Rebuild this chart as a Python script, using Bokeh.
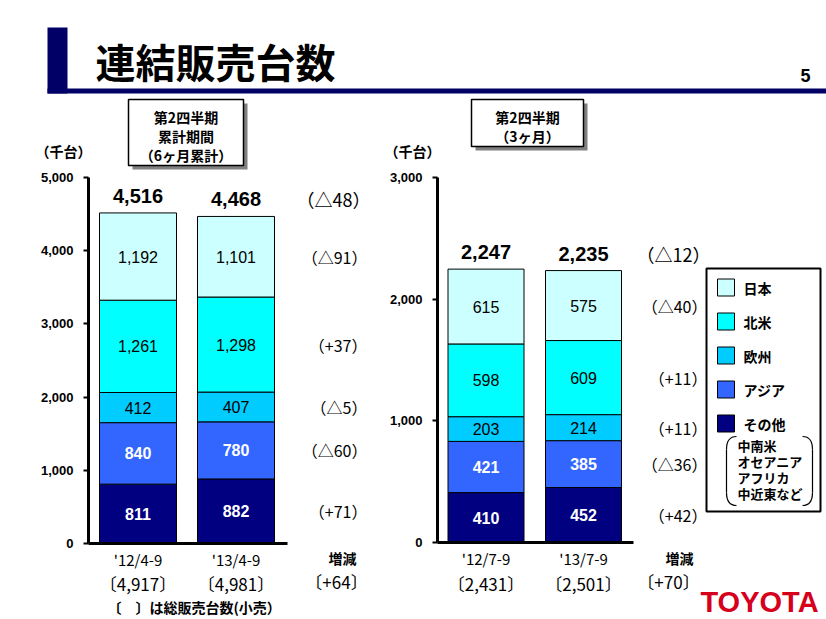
import numpy as np
from bokeh.plotting import figure
from bokeh.models import Range1d, LinearAxis, FixedTicker, NumeralTickFormatter
from bokeh.core.properties import value
from bokeh.embed import file_html
from bokeh.resources import INLINE

# ---------------- data ----------------
regions = ["日本", "北米", "欧州", "アジア", "その他"]
region_colors = ["#CCFFFF", "#00FFFF", "#00CCFF", "#3366FF", "#000080"]
region_label_colors = ["black", "black", "black", "white", "white"]
region_label_styles = ["normal", "normal", "normal", "bold", "bold"]
other_note = ["中南米", "オセアニア", "アフリカ", "中近東など"]

left_periods = ["'12/4-9", "'13/4-9"]
left_japan = [1192, 1101]
left_na = [1261, 1298]
left_eu = [412, 407]
left_asia = [840, 780]
left_other = [811, 882]
left_retail = [4917, 4981]
left_ticks = [0, 1000, 2000, 3000, 4000, 5000]
left_header = ["第2四半期", "累計期間", "（6ヶ月累計）"]

right_periods = ["'12/7-9", "'13/7-9"]
right_japan = [615, 575]
right_na = [598, 609]
right_eu = [203, 214]
right_asia = [421, 385]
right_other = [410, 452]
right_retail = [2431, 2501]
right_ticks = [0, 1000, 2000, 3000]
right_header = ["第2四半期", "（3ヶ月）"]

title = "連結販売台数"
page_no = "5"
unit_label = "（千台）"
change_label = "増減"
retail_note = "〔　〕は総販売台数(小売）"

# ---------------- canvas ----------------
W, H = 826, 619
JP = value("Noto Sans CJK JP")
LAT = value("Liberation Sans")

p = figure(width=W, height=H, x_range=Range1d(0, W), y_range=Range1d(H, 0),
           x_axis_type=None, y_axis_type=None, toolbar_location=None,
           output_backend="svg", min_border=0, outline_line_color=None)
p.background_fill_color = "white"
p.border_fill_color = "white"

# title decoration
NAVY = "#000066"
p.quad(left=[47], right=[67], top=[27], bottom=[93], fill_color=NAVY, line_color=None)
p.quad(left=[47], right=[W], top=[88], bottom=[93], fill_color=NAVY, line_color=None)
p.text(x=[95], y=[60], text=[title], text_font=JP, text_font_style="bold",
       text_font_size="40px", text_baseline="middle", text_align="left", text_color="black")
p.text(x=[805], y=[75], text=[page_no], text_font=LAT, text_font_style="bold",
       text_font_size="18px", text_baseline="middle", text_align="center")


def fmt_delta(d, paren=("（", "）")):
    s = f"△{-d:,}" if d < 0 else f"+{d:,}"
    return paren[0] + s + paren[1]


def header_box(x0, x1, y0, y1, lines, ys):
    p.quad(left=[x0 + 4], right=[x1 + 4], top=[y0 + 4], bottom=[y1 + 4],
           fill_color="#808080", line_color=None)
    p.quad(left=[x0], right=[x1], top=[y0], bottom=[y1],
           fill_color="white", line_color="black", line_width=1.5)
    p.text(x=[(x0 + x1) / 2] * len(lines), y=ys, text=lines, text_font=JP,
           text_font_style="bold", text_font_size="14px", text_align="center",
           text_baseline="middle")


def chart(name, periods, segs, retail, ticks, axis_px, y0_px, ytop_px, c0_px, step_px,
          bar_w_px, delta_px, change_px, retail_change_px, base_end_px):
    vmax = ticks[-1]
    scale = (y0_px - ytop_px) / vmax
    yr, xr = name + "_y", name + "_x"
    p.extra_y_ranges[yr] = Range1d(start=-(H - y0_px) / scale, end=y0_px / scale)
    p.extra_x_ranges[xr] = Range1d(start=-c0_px / step_px, end=(W - c0_px) / step_px)

    idx = np.arange(len(periods), dtype=float)
    bw = bar_w_px / step_px
    # stacked from bottom (その他) to top (日本)
    order = list(range(len(segs)))[::-1]
    bottom = np.zeros(len(periods))
    for k in order:
        vals = np.array(segs[k], dtype=float)
        top = bottom + vals
        p.vbar(x=idx, width=bw, bottom=bottom, top=top, fill_color=region_colors[k],
               line_color="black", line_width=1, x_range_name=xr, y_range_name=yr)
        p.text(x=idx, y=(bottom + top) / 2, text=[f"{int(v):,}" for v in vals],
               text_font=LAT, text_font_style=region_label_styles[k], text_font_size="16px",
               text_color=region_label_colors[k], text_align="center",
               text_baseline="middle", x_range_name=xr, y_range_name=yr)
        d = int(vals[1] - vals[0])
        p.text(x=[delta_px], y=[(bottom[1] + top[1]) / 2], text=[fmt_delta(d)],
               text_font=JP, text_font_size="16px", text_align="right",
               text_baseline="middle", y_range_name=yr)
        bottom = top
    totals = bottom
    p.text(x=idx, y=totals, text=[f"{int(v):,}" for v in totals], text_font=LAT,
           text_font_style="bold", text_font_size="20px", text_align="center",
           text_baseline="middle", y_offset=-17, x_range_name=xr, y_range_name=yr)
    p.text(x=[delta_px + 3], y=[totals[1]], text=[fmt_delta(int(totals[1] - totals[0]))],
           text_font=JP, text_font_size="18px", text_align="right",
           text_baseline="middle", y_offset=-17, y_range_name=yr)

    # axes
    ya = LinearAxis(y_range_name=yr, fixed_location=axis_px, bounds=(0, vmax),
                    ticker=FixedTicker(ticks=ticks),
                    formatter=NumeralTickFormatter(format="0,0"))
    ya.axis_line_width = 3
    ya.major_tick_line_width = 2
    ya.major_tick_in = 0
    ya.major_tick_out = 5
    ya.minor_tick_line_color = None
    ya.major_label_standoff = 10
    ya.major_label_text_font = "Liberation Sans"
    ya.major_label_text_font_style = "bold"
    ya.major_label_text_font_size = "13px"
    ya.major_label_text_color = "black"
    p.add_layout(ya, "left")

    xa = LinearAxis(x_range_name=xr, y_range_name=yr, fixed_location=0,
                    bounds=((axis_px - c0_px) / step_px, (base_end_px - c0_px) / step_px),
                    ticker=FixedTicker(ticks=list(idx)),
                    major_label_overrides={float(i): s for i, s in zip(idx, periods)})
    xa.axis_line_width = 3
    xa.major_tick_in = 0
    xa.major_tick_out = 0
    xa.minor_tick_line_color = None
    xa.major_label_standoff = 5
    xa.major_label_text_font = "Noto Sans CJK JP"
    xa.major_label_text_font_size = "15px"
    xa.major_label_text_color = "black"
    p.add_layout(xa, "below")

    # change header and retail figures
    p.text(x=[change_px], y=[557], text=[change_label], text_font=JP, text_font_style="bold",
           text_font_size="14px", text_align="center", text_baseline="middle")
    p.text(x=idx, y=[583] * len(idx), text=[f"〔{v:,}〕" for v in retail], text_font=JP,
           text_font_size="17px", text_align="center", text_baseline="middle",
           x_range_name=xr)
    p.text(x=[retail_change_px], y=[581], text=[fmt_delta(retail[1] - retail[0], ("〔", "〕"))],
           text_font=JP, text_font_size="17px", text_align="center", text_baseline="middle")
    # unit label
    p.text(x=[axis_px - 25], y=[150], text=[unit_label], text_font=JP, text_font_style="bold",
           text_font_size="14px", text_align="center", text_baseline="middle")


left_segs = [left_japan, left_na, left_eu, left_asia, left_other]
right_segs = [right_japan, right_na, right_eu, right_asia, right_other]

chart("l", left_periods, left_segs, left_retail, left_ticks, axis_px=88, y0_px=543, ytop_px=177,
      c0_px=137.5, step_px=98, bar_w_px=77, delta_px=367, change_px=342,
      retail_change_px=336, base_end_px=287)
chart("r", right_periods, right_segs, right_retail, right_ticks, axis_px=437, y0_px=542,
      ytop_px=177, c0_px=485.5, step_px=97.5, bar_w_px=76, delta_px=707, change_px=679,
      retail_change_px=668, base_end_px=633)

header_box(128, 243, 99, 165, left_header, [116, 135, 154])
header_box(471, 583, 99, 146, right_header, [116, 135])

p.text(x=[107], y=[606], text=[retail_note], text_font=JP, text_font_style="bold",
       text_font_size="14px", text_align="left", text_baseline="middle")

# legend
p.quad(left=[706], right=[820], top=[268], bottom=[511], fill_color="white",
       line_color="black", line_width=2)
leg_y = [287 + 34 * i for i in range(len(regions))]
p.quad(left=[717] * 5, right=[734] * 5, top=[y - 8.5 for y in leg_y],
       bottom=[y + 8.5 for y in leg_y], fill_color=region_colors, line_color="black",
       line_width=1)
p.text(x=[743] * 5, y=leg_y, text=regions, text_font=JP, text_font_style="bold",
       text_font_size="14px", text_align="left", text_baseline="middle")
p.text(x=[737] * 4, y=[445, 461, 477, 493], text=other_note, text_font=JP,
       text_font_style="bold", text_font_size="13px", text_align="left",
       text_baseline="middle")
# brackets
p.bezier(x0=[736, 726, 802, 812], y0=[436, 492, 436, 492], x1=[726, 736, 812, 802],
         y1=[449, 505, 449, 505], cx0=[729, 726, 809, 812], cy0=[436, 501, 436, 501],
         cx1=[726, 729, 812, 809], cy1=[441, 505, 441, 505], line_color="black", line_width=1.2)
p.segment(x0=[726, 812], y0=[449, 449], x1=[726, 812], y1=[492, 492], line_color="black",
          line_width=1.2)

# logo
p.text(x=[759], y=[601], text=["TOYOTA"], text_font=LAT, text_font_style="bold",
       text_font_size="29px", text_color="#D6001C", text_align="center",
       text_baseline="middle")

open("out.html", "w").write(file_html(p, INLINE))
